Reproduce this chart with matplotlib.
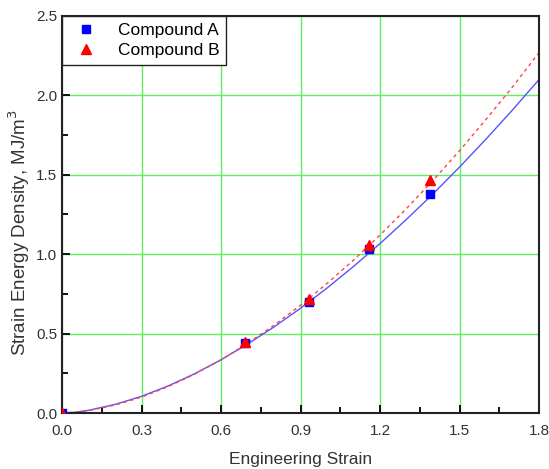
import numpy as np
import matplotlib.pyplot as plt
from matplotlib.ticker import MultipleLocator

plt.rcParams['font.family'] = ['Liberation Sans', 'DejaVu Sans']

# measured points
strain_pts = [0.0, 0.69, 0.93, 1.16, 1.39]
energy_a = [0.0, 0.44, 0.70, 1.03, 1.38]
energy_b = [0.0, 0.45, 0.72, 1.06, 1.47]

# fitted curves
curve_x = [0.0, 0.05, 0.1, 0.2, 0.3, 0.4, 0.5, 0.6, 0.7, 0.8, 0.9,
           1.0, 1.1, 1.2, 1.3, 1.4, 1.5, 1.6, 1.7, 1.8]
curve_a = [0.0, 0.005, 0.017, 0.054, 0.105, 0.170, 0.247, 0.335, 0.434, 0.542, 0.660,
           0.787, 0.923, 1.067, 1.220, 1.380, 1.549, 1.725, 1.909, 2.10]
curve_b = [0.0, 0.004, 0.015, 0.050, 0.100, 0.166, 0.244, 0.335, 0.439, 0.553, 0.679,
           0.816, 0.963, 1.121, 1.288, 1.465, 1.652, 1.849, 2.054, 2.27]

fig = plt.figure(figsize=(5.49, 4.69), dpi=100)
ax = fig.add_axes([0.113, 0.1194, 0.869, 0.8466])

ax.grid(True, color='#60ee60', linewidth=1.0, zorder=0)

ax.plot(curve_x, curve_a, '-', color='#5555ff', linewidth=1.0, zorder=2)
ax.plot(curve_x, curve_b, '--', color='#ff4444', linewidth=1.0, dashes=(2.5, 2.5), zorder=2)

ax.plot(strain_pts, energy_a, 's', color='#0000ff', markersize=6, linestyle='none',
        label='Compound A', zorder=3)
ax.plot(strain_pts, energy_b, '^', color='#ff0000', markersize=7, linestyle='none',
        label='Compound B', zorder=3)

ax.set_xlim(0, 1.8)
ax.set_ylim(0, 2.5)
ax.xaxis.set_major_locator(MultipleLocator(0.3))
ax.xaxis.set_minor_locator(MultipleLocator(0.15))
ax.yaxis.set_major_locator(MultipleLocator(0.5))
ax.yaxis.set_minor_locator(MultipleLocator(0.25))
ax.xaxis.set_major_formatter(plt.FormatStrFormatter('%.1f'))
ax.yaxis.set_major_formatter(plt.FormatStrFormatter('%.1f'))

ax.tick_params(which='both', direction='in', top=False, right=False,
               labelsize=11, labelcolor='#333333', width=1.3)
ax.tick_params(which='major', length=6)
ax.tick_params(which='minor', length=4)
ax.tick_params(axis='x', pad=8)

for s in ax.spines.values():
    s.set_linewidth(1.5)
    s.set_color('#222222')

ax.set_xlabel('Engineering Strain', fontsize=12.5, color='#333333', labelpad=10)
ax.set_ylabel('Strain Energy Density, MJ/m$^3$', fontsize=13.5, color='#333333')
ax.yaxis.set_label_coords(-0.062, 0.455)

leg = ax.legend(loc='upper left', fontsize=12.5, frameon=True, fancybox=False,
                borderaxespad=0, handletextpad=0.8, borderpad=0.4, labelspacing=0.3)
leg.get_frame().set_edgecolor('#222222')
leg.get_frame().set_linewidth(1.0)
leg.get_frame().set_alpha(1.0)

fig.savefig('out.png', dpi=100)
